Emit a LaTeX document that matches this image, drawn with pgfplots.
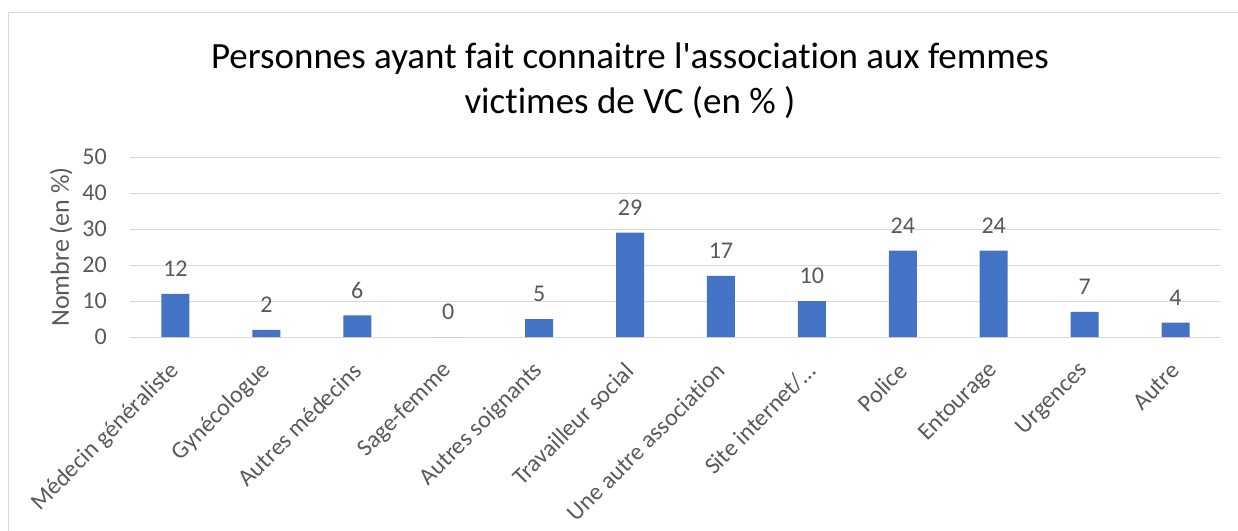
\documentclass[border=0pt]{standalone}
\usepackage{pgfplots}
\pgfplotsset{compat=1.18}
\usepackage{fontspec}
\setmainfont{Carlito}[Ligatures={TeXOff,CommonOff}]
\definecolor{barblue}{HTML}{4472C4}
\definecolor{txtgray}{HTML}{595959}
\definecolor{gridgray}{HTML}{D9D9D9}
\newcommand{\lbl}{\fontsize{24bp}{29bp}\selectfont}
\begin{document}
\begin{tikzpicture}
\begin{axis}[
  at={(130bp,-337bp)}, anchor=south west,
  scale only axis, width=1091bp, height=180bp,
  /pgf/number format/assume math mode=true,
  xmin=-0.5, xmax=11.5, ymin=0, ymax=50,
  ytick={0,10,...,50},
  xtick={0,...,11},
  xticklabels={Médecin généraliste, Gynécologue, Autres médecins, Sage-femme, Autres soignants, Travailleur social, Une autre association, Site internet/…, Police, Entourage, Urgences, Autre},
  axis x line*=bottom, axis y line*=left,
  x axis line style={draw=gridgray, line width=1bp},
  y axis line style={draw=none},
  major tick length=0pt,
  ymajorgrids, grid style={draw=gridgray, line width=1bp},
  yticklabel style={font=\lbl, text=txtgray, inner sep=0pt, anchor=east, xshift=-23bp},
  xticklabel style={font=\lbl, text=txtgray, yshift=-30bp, rotate=45, anchor=east, inner sep=0pt},
  every axis y label/.style={at={(axis description cs:-0.0632,0.5)}, rotate=90, anchor=center},
  ylabel={Nombre (en \%)},
  ylabel style={font=\fontsize{26bp}{31bp}\selectfont, text=txtgray},
  title={Personnes ayant fait connaitre l'association aux femmes\\victimes de VC (en \% )},
  title style={at={(axis description cs:0.4583,1)}, anchor=south, align=center,
    font=\fontsize{37bp}{45bp}\selectfont, text=black, inner sep=0pt, yshift=32bp},
  ybar, bar width=28bp,
  nodes near coords,
  nodes near coords style={font=\lbl, text=txtgray, inner sep=0pt, anchor=south, yshift=17bp},
  clip=false,
]
\addplot[fill=barblue, draw=none] coordinates {
  (0,12) (1,2) (2,6) (3,0) (4,5) (5,29) (6,17) (7,10) (8,24) (9,24) (10,7) (11,4)
};
\end{axis}
\draw[gridgray, line width=1bp] (8bp,-545bp) -- (8bp,-12.5bp) -- (1250bp,-12.5bp);
\pgfresetboundingbox
\path (0bp,0bp) rectangle (1238bp,-531bp);
\end{tikzpicture}
\end{document}
